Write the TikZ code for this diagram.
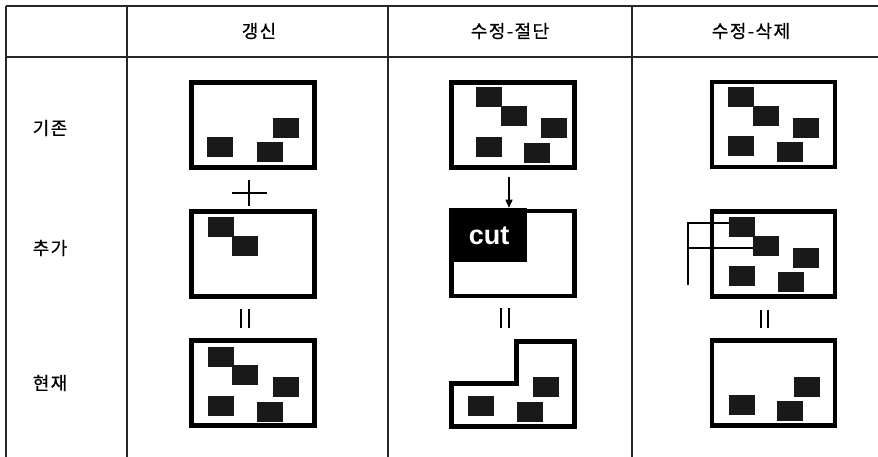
\documentclass[tikz,border=0pt]{standalone}
\usepackage{fontspec}
\setmainfont{Liberation Sans}
\newfontfamily\krsp{Noto Sans CJK KR}[LetterSpace=8,FakeBold=0.6]
\usetikzlibrary{arrows.meta}
\begin{document}
\begin{tikzpicture}[x=1pt,y=-1pt,
  grid/.style={line width=1.2pt, black!85},
  frame/.style={draw=black, line width=4.5pt, minimum width=123pt, minimum height=85pt, inner sep=0pt},
  blk/.style={fill=black!90, draw=none},
  lbl/.style={font=\krsp\fontsize{18}{18}\selectfont},
  mark line/.style={line width=1.2pt, black},
  thinline/.style={line width=1.3pt, black}]
\useasboundingbox[fill=white] (0,0) rectangle (878,457);
% table grid
\draw[grid] (6,6) -- (878,6);
\draw[grid] (6,57) -- (878,57);
\foreach \x in {6,127,388,632} \draw[grid] (\x,6) -- (\x,457);
% headers
\node[lbl] (h1) at (259,31) {갱신};
\node[lbl] (h2) at (510,31) {수정-절단};
\node[lbl] (h3) at (751,31) {수정-삭제};
\node[lbl] (r1) at (50,128) {기존};
\node[lbl] (r2) at (50,248) {추가};
\node[lbl] (r3) at (50,383) {현재};
% boxes
\node[frame] (b11) at (253,125) {};
\node[frame] (b12) at (513,125) {};
\node[frame] (b13) at (773.5,124.5) {};
\node[frame] (b21) at (253,254) {};
\node[frame] (b22) at (513,253.5) {};
\node[frame] (b23) at (773.5,254) {};
\node[frame] (b31) at (253,383) {};
\node[frame] (b33) at (773.5,383) {};
% L-shaped box
\draw[line width=4.5pt, line join=miter] (451.3,383.5) -- (516.3,383.5) -- (516.3,341.3) -- (574.7,341.3) -- (574.7,426.3) -- (451.3,426.3) -- cycle;
% cut region
\fill[black] (449,208) rectangle (527,262);
\node[font=\bfseries\fontsize{27}{27}\selectfont, text=white] (cut) at (489,236) {cut};
% squares
\foreach \p in {(207,137),(257,142),(273,118),
                (208,217),(232,236),
                (208,347),(232,365),(273,377),(208,396),(257,402),
                (476,87),(501,106),(541,118),(476,137),(524,143),
                (468,396),(517,402),(533,377),
                (728,87),(753,106),(793,118),(728,136),(777,142),
                (729,217),(753,236),(793,248),(729,266),(778,272),
                (729,395),(777,401),(794,377)}
  \fill[blk] \p rectangle ++(26,20);
% plus
\coordinate (pc) at (249,193);
\draw[mark line] ([xshift=-17pt]pc) -- ([xshift=18pt]pc);
\draw[mark line] ([yshift=13pt]pc) -- ([yshift=-13pt]pc);
% arrow
\draw[thinline, -{Triangle[length=8pt,width=7pt]}] ([xshift=-4pt,yshift=-7pt]b12.south) -- ([xshift=-4pt,yshift=1pt]b22.north);
% equals
\foreach \x in {241,249} \draw[mark line] (\x,309) -- (\x,328);
\foreach \x in {501,509} \draw[mark line] (\x,308) -- (\x,328);
\foreach \x in {761,768} \draw[mark line] (\x,310) -- (\x,328);
% bracket
\coordinate (kb) at (688,285);
\coordinate (kt) at (688,223);
\coordinate (km) at (688,248);
\draw[thinline] (kb) -- (kt) -- (729,223);
\draw[thinline] (km) -- (753,248);
\end{tikzpicture}
\end{document}
